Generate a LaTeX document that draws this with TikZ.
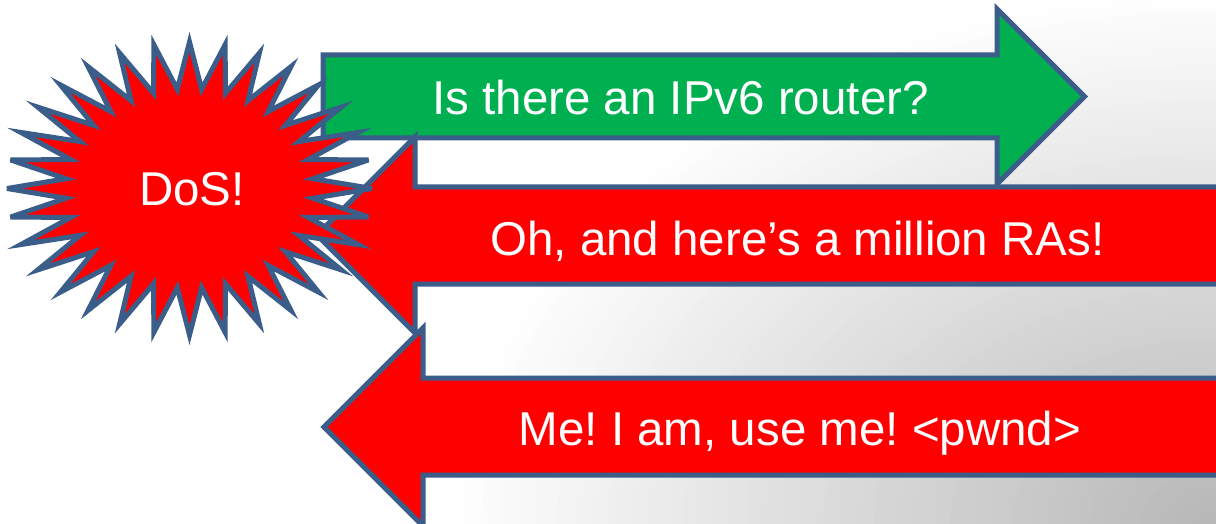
\documentclass[tikz,border=0pt]{standalone}
\usepackage{fontspec}
\setmainfont{Liberation Sans}
\frenchspacing
\definecolor{outl}{HTML}{3B5D8A}
\definecolor{pgreen}{HTML}{00B050}
\definecolor{pred}{HTML}{FF0000}
\tikzset{
  arrowshape/.style={draw=outl, line width=5pt, line join=miter},
  greenarrow/.style={arrowshape, fill=pgreen},
  redarrow/.style={arrowshape, fill=pred},
  burst/.style={draw=outl, line width=5pt, line join=miter, miter limit=6, fill=pred},
  lbl/.style={text=white, anchor=base, inner sep=0pt, font=\fontsize{47.5}{57}\selectfont}
}
\begin{document}
\begin{tikzpicture}[x=1pt, y=-1pt]
\useasboundingbox (0,0) rectangle (1216,524);
\begin{scope}
  \clip (0,0) rectangle (1216,524);
  \fill[white] (0,0) rectangle (1216,524);
  \foreach \i in {1,...,60}{
    \pgfmathsetmacro\pct{28*\i/60}
    \pgfmathsetmacro\fac{1-(\i-1)/60}
    \fill[black!\pct] (1216,524) ellipse ({760*\fac pt} and {530*\fac pt});
  }
  \fill[white] (1152,0) rectangle (1216,8);
  % green arrow pointing right
  \draw[greenarrow] (323,55) -- (997,55) -- (997,9) -- (1084.5,96.5) -- (997,184) -- (997,138) -- (323,138) -- cycle;
  % red arrow 1 pointing left
  \draw[redarrow] (1240,187) -- (415,187) -- (415,137) -- (317,235) -- (415,333) -- (415,284) -- (1240,284);
  % red arrow 2 pointing left
  \draw[redarrow] (1240,378) -- (423,378) -- (423,328) -- (324,427) -- (423,526) -- (423,475) -- (1240,475);
  % starburst
  \draw[burst] plot[samples at={0,...,63}] ({189.5+182.5*(1-0.32*mod(\x,2))*cos(90+5.625*\x)}, {188.5-146.5*(1-0.32*mod(\x,2))*sin(90+5.625*\x)}) -- cycle;
\end{scope}
\node[lbl] (dos) at (192,205) {DoS!};
\node[lbl] (q) at (680.5,115) {Is there an IPv6 router?};
\node[lbl] (ras) at (797.5,255) {Oh, and here’s a million RAs!};
\node[lbl] (pwnd) at (800,445) {Me! I am, use me! <pwnd>};
\end{tikzpicture}
\end{document}
